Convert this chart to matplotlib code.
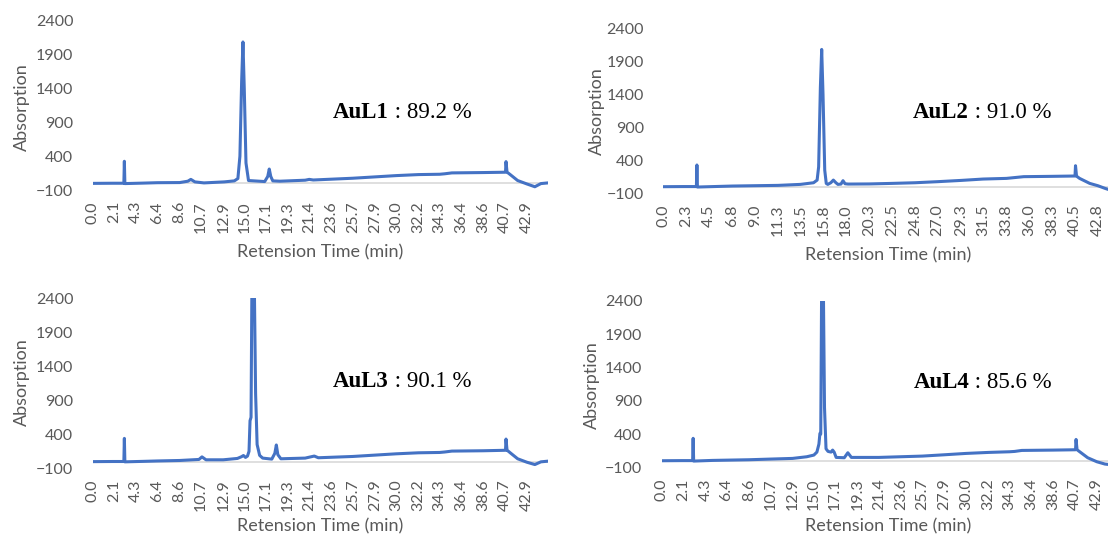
import matplotlib
matplotlib.use("Agg")
import matplotlib.pyplot as plt

# retention time (min) / absorption
t1 = [0.0, 2.0, 3.08, 3.13, 3.18, 5.0, 6.4, 8.6, 9.4, 9.7, 10.1, 11.0, 13.0, 14.0, 14.35, 14.55,
      14.72, 14.85, 14.98, 15.15, 15.4, 17.0, 17.3, 17.45, 17.6, 17.8, 18.5, 21.0, 21.4, 21.8, 25.7,
      27.9, 30.0, 32.2, 34.3, 34.8, 35.5, 38.6, 40.8, 40.85, 40.95, 41.3, 42.0, 42.9, 43.7, 44.3, 45.0]
a1 = [-2, 0, 0, 325, -5, 2, 8, 10, 30, 57, 20, 5, 20, 35, 70, 400,
      1500, 2090, 1400, 300, 40, 25, 100, 210, 100, 35, 30, 45, 57, 48, 74,
      94, 113, 128, 133, 140, 153, 158, 163, 320, 165, 124, 40, -10, -52, -5, 5]

t2 = [0.0, 2.0, 3.26, 3.31, 3.36, 4.5, 6.8, 9.0, 11.3, 13.5, 14.8, 15.15, 15.3, 15.47, 15.6, 15.73,
      15.9, 16.05, 16.2, 16.5, 16.75, 17.0, 17.2, 17.5, 17.7, 17.9, 18.2, 20.3, 22.5, 24.8, 27.0,
      29.3, 31.5, 33.8, 35.5, 38.3, 40.55, 40.6, 40.7, 41.0, 42.0, 42.8, 43.5, 43.8]
a2 = [0, 2, 2, 329, -5, 0, 10, 15, 20, 35, 60, 100, 300, 1500, 2080, 1400,
      250, 50, 35, 60, 100, 60, 35, 40, 91, 45, 40, 42, 50, 60, 76,
      95, 116, 126, 152, 157, 162, 318, 160, 126, 50, 15, -25, -40]

t3 = [0.0, 2.0, 3.08, 3.13, 3.18, 5.0, 6.4, 8.6, 10.5, 10.8, 11.2, 12.9, 14.3, 14.7, 14.9, 15.1,
      15.3, 15.45, 15.55, 15.65, 15.75, 15.95, 16.1, 16.25, 16.5, 16.8, 17.7, 18.0, 18.15, 18.3,
      18.6, 21.0, 21.6, 21.9, 22.3, 25.7, 27.9, 30.0, 32.2, 34.3, 34.8, 35.5, 38.6, 40.8, 40.85,
      40.95, 41.3, 42.0, 42.9, 43.7, 44.3, 45.0]
a3 = [-2, 0, 0, 340, -5, 2, 8, 15, 30, 68, 25, 25, 45, 70, 88, 60,
      80, 150, 600, 650, 2900, 2900, 1000, 250, 90, 50, 35, 120, 243, 100,
      40, 50, 70, 80, 55, 74, 94, 113, 128, 133, 140, 153, 158, 165, 330,
      167, 124, 40, -10, -45, -5, 5]

t4 = [0.0, 2.0, 3.05, 3.1, 3.15, 5.0, 8.6, 10.7, 12.9, 14.3, 15.0, 15.3, 15.5, 15.6, 15.68,
      15.78, 15.92, 16.05, 16.2, 16.4, 16.7, 16.85, 17.0, 17.2, 18.0, 18.35, 18.7, 21.4, 25.7,
      27.9, 30.0, 32.2, 34.3, 34.8, 35.5, 38.6, 40.8, 40.85, 40.95, 41.3, 42.0, 42.9, 43.7, 44.0]
a4 = [0, 2, 2, 337, -5, 5, 15, 25, 35, 60, 85, 130, 250, 412, 400,
      2900, 2900, 800, 180, 140, 130, 160, 130, 50, 45, 120, 50, 50, 70,
      90, 110, 125, 135, 140, 155, 160, 165, 320, 165, 125, 45, -15, -50, -55]

names = ["AuL1", "AuL2", "AuL3", "AuL4"]
purity = ["89.2", "91.0", "90.1", "85.6"]

ticks_a = ["0.0", "2.1", "4.3", "6.4", "8.6", "10.7", "12.9", "15.0", "17.1", "19.3", "21.4",
           "23.6", "25.7", "27.9", "30.0", "32.2", "34.3", "36.4", "38.6", "40.7", "42.9"]
ticks_b = ["0.0", "2.3", "4.5", "6.8", "9.0", "11.3", "13.5", "15.8", "18.0", "20.3", "22.5",
           "24.8", "27.0", "29.3", "31.5", "33.8", "36.0", "38.3", "40.5", "42.8"]
yticks = [-100, 400, 900, 1400, 1900, 2400]

FW, FH = 1108, 540
BLUE = "#4472C4"
GREY = "#595959"


def box(l, t, r, b):
    # pixel box (top-down) -> figure fraction
    return [l / FW, 1 - b / FH, (r - l) / FW, (b - t) / FH]


# axes box px, x max, label text pos (axes frac), ylabel px, xlabel px
layout = [
    ((92.7, 21, 548, 190), 45.0, (0.528, 0.456), (22, 107), (320, 252)),
    ((663.3, 28.3, 1108, 193.3), 43.8, (0.561, 0.487), (597, 111), (888, 255)),
    ((92.7, 298.3, 548, 468.3), 45.0, (0.528, 0.508), (22, 382), (320, 526)),
    ((661.7, 301, 1108, 467.4), 44.0, (0.564, 0.513), (592, 385), (888, 526)),
]
series = [(t1, a1, ticks_a), (t2, a2, ticks_b), (t3, a3, ticks_a), (t4, a4, ticks_a)]

plt.rcParams["font.family"] = ["Lato", "DejaVu Sans"]
fig = plt.figure(figsize=(FW / 100, FH / 100), dpi=100)

for (t, a, ticks), name, pct, (bx, xmax, txy, ylp, xlp) in zip(series, names, purity, layout):
    ax = fig.add_axes(box(*bx))
    ax.patch.set_alpha(0)
    ax.axhline(0, color="#D9D9D9", lw=1.2, zorder=1)
    ax.plot(t, a, color=BLUE, lw=2.2, solid_joinstyle="round", zorder=2)
    ax.set_xlim(0, xmax)
    ax.set_ylim(-100, 2400)
    ax.set_yticks(yticks)
    ax.set_xticks([float(s) for s in ticks], ticks, rotation=90)
    ax.tick_params(length=0, labelsize=11.5, labelcolor=GREY)
    ax.tick_params(axis="y", pad=14)
    ax.tick_params(axis="x", pad=8)
    for s in ax.spines.values():
        s.set_visible(False)

    lab = ax.text(txy[0], txy[1], name, transform=ax.transAxes, ha="left", va="center",
                  fontsize=16.5, fontweight="bold", family="Liberation Serif", color="black")
    ax.annotate(f" : {pct} %", xy=(1, 0), xycoords=lab, ha="left", va="bottom",
                fontsize=16.5, family="Liberation Serif", color="black")

    fig.text(ylp[0] / FW, 1 - ylp[1] / FH, "Absorption", rotation=90, ha="center",
             va="center", fontsize=13, color=GREY)
    fig.text(xlp[0] / FW, 1 - xlp[1] / FH, "Retension Time (min)", ha="center",
             va="center", fontsize=13, color=GREY)

fig.savefig("out.png", dpi=100)
